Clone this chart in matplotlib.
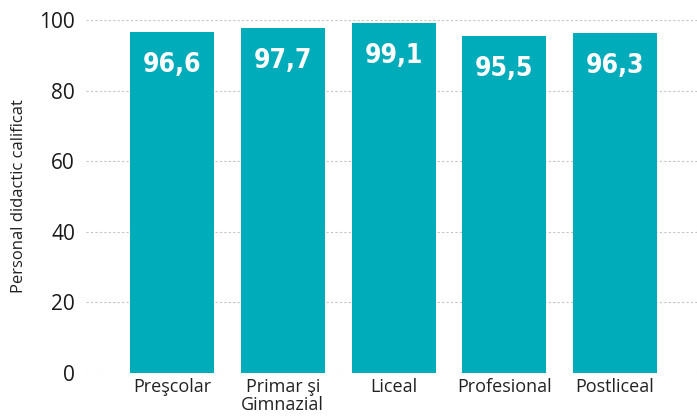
import matplotlib.pyplot as plt
import numpy as np

categories = ["Preşcolar", "Primar şi\nGimnazial", "Liceal", "Profesional", "Postliceal"]
values = [96.6, 97.7, 99.1, 95.5, 96.3]
value_labels = ["96,6", "97,7", "99,1", "95,5", "96,3"]
y_ticks = [0, 20, 40, 60, 80, 100]

plt.rcParams['font.family'] = ['Open Sans', 'DejaVu Sans']

fig = plt.figure(figsize=(6.97, 4.19), dpi=100)
ax = fig.add_axes([0.1234, 0.1105, 0.8766, 0.8418])

x = np.arange(len(categories))
ax.bar(x, values, width=0.758, color='#00abba', zorder=3)

for xi, v, lab in zip(x, values, value_labels):
    ax.text(xi, v - 9.4, lab, ha='center', va='center', color='white',
            fontsize=19, fontweight='bold', fontstretch='condensed',
            family=['DejaVu Sans'], zorder=4)

ax.set_xlim(-0.7765, 4.74)
ax.set_ylim(0, 100)
ax.set_yticks(y_ticks)
ax.set_xticks(x)
ax.set_xticklabels(categories, fontsize=13, color='#222222', linespacing=1.0)
ax.set_yticklabels([str(t) for t in y_ticks], fontsize=15, color='#1a1a1a')
ax.tick_params(axis='y', length=0, pad=8)
ax.tick_params(axis='x', length=0, pad=4)

ax.yaxis.grid(True, linestyle=(0, (2, 2)), color='#c4c4c4', linewidth=0.8, zorder=0)
ax.set_axisbelow(True)
for s in ax.spines.values():
    s.set_visible(False)

ax.set_ylabel('Personal didactic calificat', fontsize=12, color='#222222', labelpad=9)

fig.savefig('out.png', dpi=100)
